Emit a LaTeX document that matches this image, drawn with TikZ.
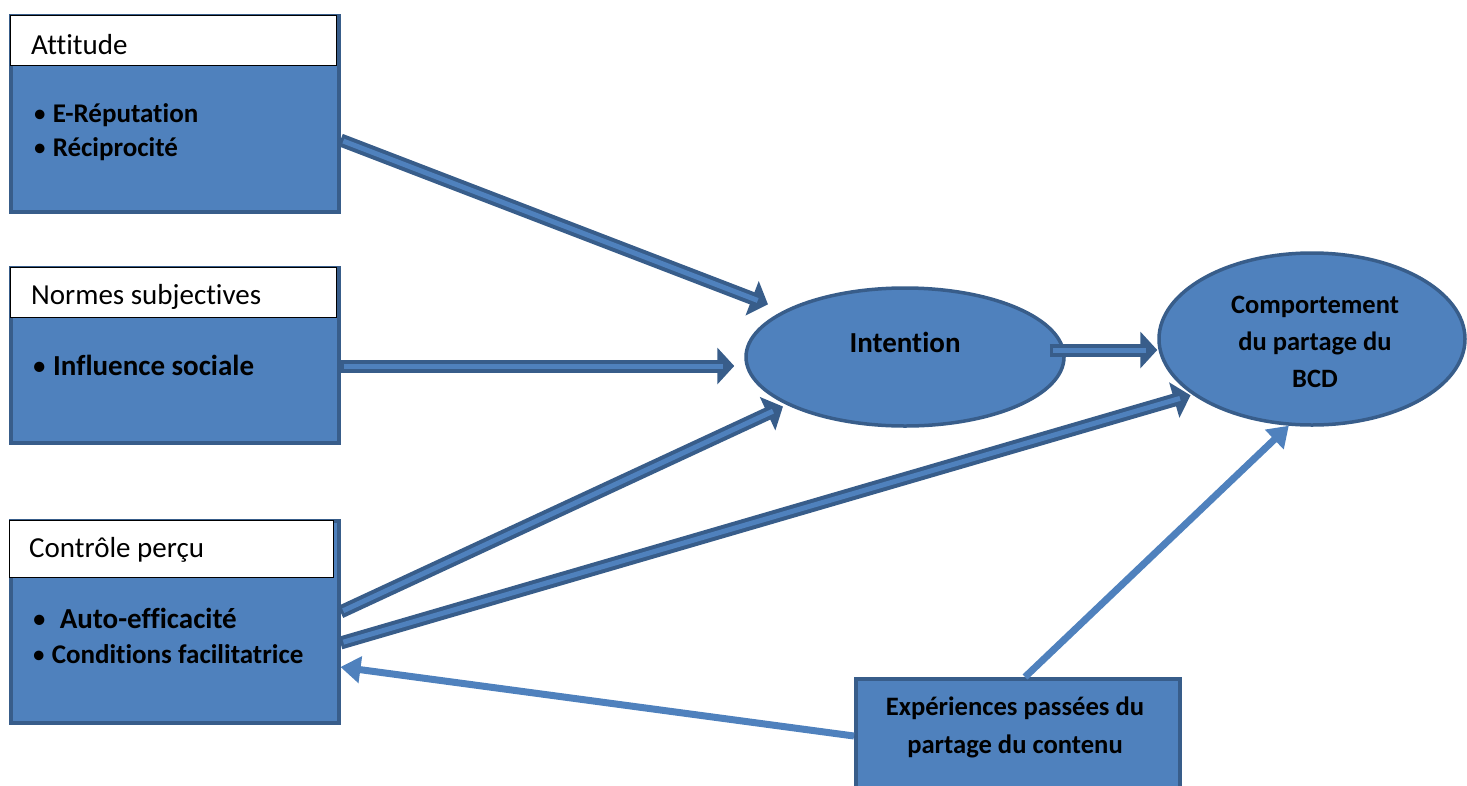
\documentclass[tikz,border=0pt]{standalone}
\usepackage{fontspec}
\setmainfont{Carlito}[Ligatures=NoCommon]
\usetikzlibrary{shapes.geometric,arrows.meta}

\definecolor{boxfill}{HTML}{4F81BD}
\definecolor{boxline}{HTML}{385D8A}

\newcommand{\pt}{{\mdseries\textbullet}}

\tikzset{
  panel/.style={draw=boxline, fill=boxfill, line width=3.5pt, inner sep=0pt, anchor=north west},
  header/.style={draw=black, fill=white, line width=1.2pt, inner sep=0pt, anchor=north west},
  hdtext/.style={anchor=base west, inner sep=0pt, font=\fontsize{29}{34}\selectfont},
  item/.style={anchor=base west, inner sep=0pt, font=\fontsize{27}{31}\selectfont\bfseries},
  bigitem/.style={item, font=\fontsize{29}{34}\selectfont\bfseries},
  bubble/.style={ellipse, draw=boxline, fill=boxfill, line width=3.5pt, inner sep=0pt},
  dblout/.style={draw=boxline, line width=13pt, -{Triangle[width=36pt,length=17pt]}},
  dblin/.style={draw=boxfill, line width=5pt},
  lite/.style={draw=boxfill, line width=7pt, -{Triangle[width=26pt,length=20pt]}}
}

\begin{document}
\begin{tikzpicture}[x=1pt, y=-1pt]
    \useasboundingbox (0,0) rectangle (1467,785);
    \clip (0,0) rectangle (1467,785);

    % Attitude
    \node [panel, minimum width=328pt, minimum height=196pt] (att) at (9,14) {};
    \node [header, minimum width=326pt, minimum height=50pt] (atthd) at (10,15) {};
    \node [hdtext] (atttxt) at (31,54) {Attitude};
    \node [item] (att1) at (33,122) {\pt\ E-Réputation};
    \node [item] (att2) at (33,156) {\pt\ Réciprocité};

    % Normes subjectives
    \node [panel, minimum width=328pt, minimum height=175pt] (norm) at (9,266) {};
    \node [header, minimum width=326pt, minimum height=50pt] (normhd) at (10,267) {};
    \node [hdtext] (normtxt) at (31,304) {Normes subjectives};
    \node [bigitem] (norm1) at (32,375) {\pt\ Influence sociale};

    % Controle percu
    \node [panel, minimum width=328pt, minimum height=202pt] (ctrl) at (9,519) {};
    \node [header, minimum width=324pt, minimum height=57pt] (ctrlhd) at (9,520) {};
    \node [hdtext] (ctrltxt) at (29,557) {Contrôle perçu};
    \node [bigitem] (ctrl1) at (32,628) {\pt\ \ Auto-efficacité};
    \node [item] (ctrl2) at (32,663) {\pt\ Conditions facilitatrice};

    % Experiences passees
    \node [panel, minimum width=324pt, minimum height=130pt] (exp) at (854,677) {};
    \node [font=\fontsize{26.6}{38}\selectfont\bfseries, align=center] (exptxt) at (1015,727)
      {Expériences passées du\\partage du contenu};

    % Intention and behaviour
    \node [bubble, minimum width=318pt, minimum height=138pt] (int) at (905,357) {};
    \node [font=\fontsize{29}{34}\selectfont\bfseries, anchor=base] (inttxt) at (905,352) {Intention};
    \node [bubble, minimum width=306pt, minimum height=172pt] (comp) at (1312,339) {};
    \node [font=\fontsize{26.5}{37}\selectfont\bfseries, align=center] (comptxt) at (1315,342)
      {Comportement\\du partage du\\BCD};

    % Connector ends
    \coordinate (att-out) at (att.east |- 0,140);
    \coordinate (norm-out) at (norm.east |- 0,366);
    \coordinate (ctrl-out1) at (ctrl.east |- 0,612);
    \coordinate (ctrl-out2) at (ctrl.east |- 0,643);
    \coordinate (norm-in) at (int.west |- 0,366);
    \coordinate (int-out) at (int.east |- 0,350);
    \coordinate (comp-in) at (comp.west |- 0,350);
    \coordinate (exp-top) at (exp.north -| 1025,0);
    \coordinate (exp-left) at (exp.west |- 0,736);
    \coordinate (ctrl-in) at (ctrl.east |- 0,667);

    % Double arrows
    \foreach \src/\dst/\cut/\gap in {att-out/int.159/0/17, norm-out/norm-in/0/10,
        ctrl-out1/int.202/0/4, ctrl-out2/comp.205/0/2, int-out/comp-in/-16/0} {
      \draw [dblout, shorten <=\cut pt, shorten >=\gap pt] (\src) -- (\dst);
      \draw [dblin, shorten <=\cut pt+3pt, shorten >=\gap pt+11pt] (\src) -- (\dst);
    }

    % Past experience arrows
    \draw [lite] (exp-top) -- (comp.255);
    \draw [lite] (exp-left) -- (ctrl-in);
\end{tikzpicture}
\end{document}
